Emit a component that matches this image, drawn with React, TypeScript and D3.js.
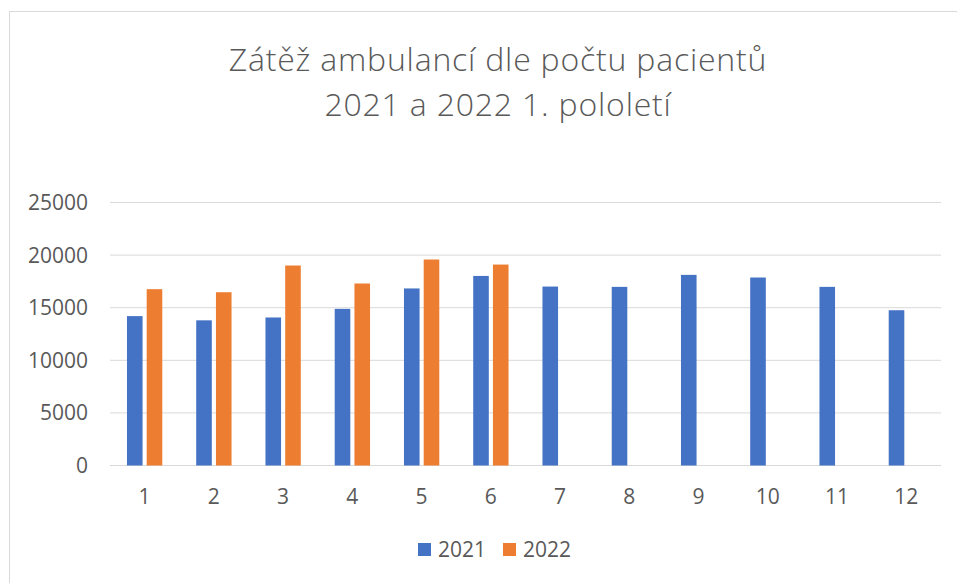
import * as d3 from 'd3';

const months = ['1', '2', '3', '4', '5', '6', '7', '8', '9', '10', '11', '12'];
const seriesNames = ['2021', '2022'];
const values2021 = [14200, 13800, 14070, 14890, 16830, 18020, 17010, 16980, 18120, 17870, 16980, 14760];
const values2022 = [16760, 16470, 19010, 17300, 19580, 19100, null, null, null, null, null, null];
const yTicks = [0, 5000, 10000, 15000, 20000, 25000];
const colors = ['#4472C4', '#ED7D31'];
const titleLines = ['Zátěž ambulancí dle počtu pacientů', '2021 a 2022 1. pololetí'];

const W = 957;
const H = 583;
const font = '"Open Sans", "Liberation Sans", Arial, sans-serif';

const App = () => {
  const margin = { left: 110, right: 16, top: 202.5, bottom: 117.5 };
  const plotRight = W - margin.right;
  const plotBottom = H - margin.bottom;

  const x = d3.scaleBand<string>()
    .domain(months)
    .range([margin.left, plotRight])
    .paddingInner(0.49)
    .paddingOuter(0.245);

  const xInner = d3.scaleBand<string>()
    .domain(seriesNames)
    .range([0, x.bandwidth()])
    .paddingInner(0.21);

  const y = d3.scaleLinear()
    .domain([0, 25000])
    .range([plotBottom, margin.top]);

  const series = [values2021, values2022];

  return (
    <svg width={W} height={H} style={{ position: 'absolute', left: 0, top: 0, background: '#fff' }}>
      <rect x={9.5} y={11.5} width={960} height={600} fill="#fff" stroke="#d9d9d9" />

      {titleLines.map((t, i) => (
        <text key={i} x={498} y={71 + i * 45} textAnchor="middle" fill="#595959"
          style={{ fontFamily: font, fontSize: 32, fontWeight: 300, letterSpacing: 0.8 }}>{t}</text>
      ))}

      {yTicks.map(t => (
        <g key={t}>
          <line x1={margin.left} x2={plotRight} y1={y(t)} y2={y(t)} stroke="#d9d9d9" strokeWidth={1} />
          <text x={88} y={y(t) + 7.5} textAnchor="end" fill="#595959"
            style={{ fontFamily: font, fontSize: 21 }}>{t}</text>
        </g>
      ))}

      {series.map((vals, si) => (
        <g key={si}>
          {vals.map((v, i) => v == null ? null : (
            <rect key={i}
              x={x(months[i])! + xInner(seriesNames[si])!}
              y={y(v)}
              width={xInner.bandwidth()}
              height={y(0) - y(v)}
              fill={colors[si]} />
          ))}
        </g>
      ))}

      {months.map(m => (
        <text key={m} x={x(m)! + x.bandwidth() / 2} y={504} textAnchor="middle" fill="#595959"
          style={{ fontFamily: font, fontSize: 21 }}>{m}</text>
      ))}

      {seriesNames.map((s, i) => (
        <g key={s} transform={`translate(${418 + i * 85},543)`}>
          <rect width={13} height={13} fill={colors[i]} />
          <text x={20} y={14} fill="#595959" style={{ fontFamily: font, fontSize: 21 }}>{s}</text>
        </g>
      ))}
    </svg>
  );
};

export default App;
